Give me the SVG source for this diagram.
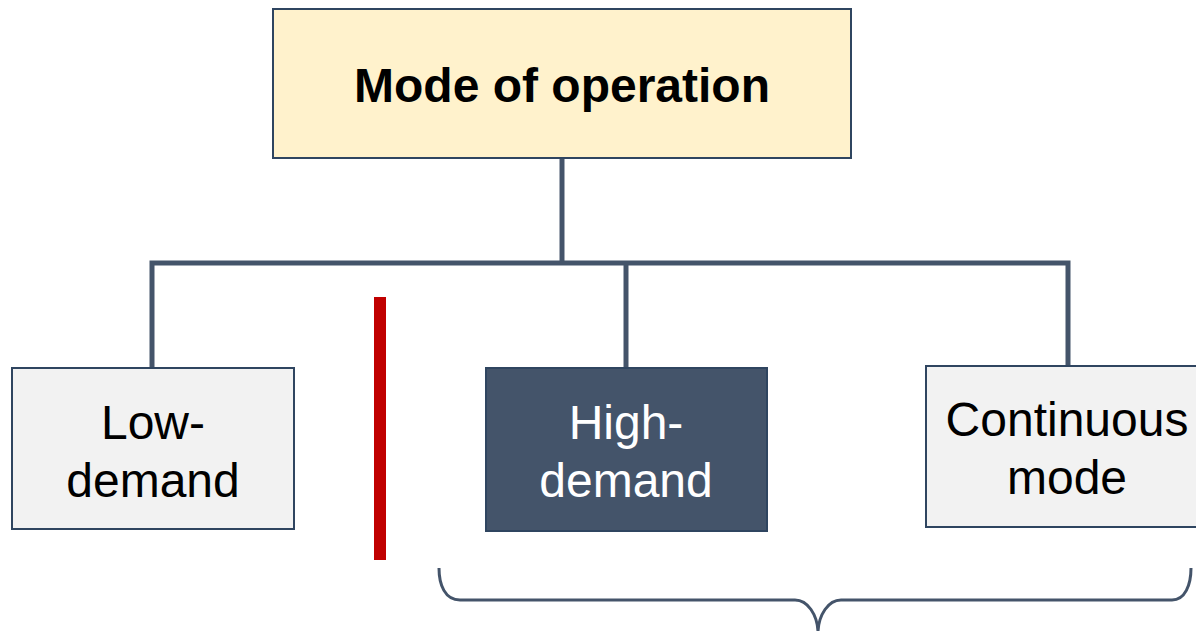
<svg xmlns="http://www.w3.org/2000/svg" width="1196" height="631" viewBox="0 0 1196 631">
  <style>
    .box { stroke: #2F4560; stroke-width: 2; }
    .root { fill: #FFF2CC; }
    .light { fill: #F2F2F2; }
    .dark { fill: #44546A; }
    .label { font-family: "Liberation Sans", Arial, sans-serif; font-size: 48px; text-anchor: middle; fill: #000; }
    .title { font-weight: bold; font-size: 48px; }
    .inv { fill: #FFFFFF; }
    .wire { fill: none; stroke: #44546A; stroke-width: 5; }
  </style>
  <rect width="1196" height="631" fill="#FFFFFF"/>

  <!-- tree connectors -->
  <g id="connectors">
    <path class="wire" d="M562 158 V263"/>
    <path class="wire" d="M152 368 V263 H1068 V366"/>
    <path class="wire" d="M626 263 V368"/>
  </g>

  <!-- top node -->
  <g id="node-mode">
    <rect class="box root" x="273" y="9" width="578" height="149"/>
    <text class="label title" x="562" y="102">Mode of operation</text>
  </g>

  <g id="node-low">
    <rect class="box light" x="12" y="368" width="282" height="161"/>
    <text class="label" x="153" y="439">Low-</text>
    <text class="label" x="153" y="497">demand</text>
  </g>

  <!-- separator -->
  <rect id="divider" x="374" y="297" width="12" height="263" fill="#C00000"/>

  <g id="node-high">
    <rect class="box dark" x="486" y="368" width="281" height="163"/>
    <text class="label inv" x="626" y="439">High-</text>
    <text class="label inv" x="626" y="497">demand</text>
  </g>

  <g id="node-continuous">
    <rect class="box light" x="926" y="366" width="284" height="161"/>
    <text class="label" x="1067" y="436">Continuous</text>
    <text class="label" x="1067" y="494">mode</text>
  </g>

  <!-- grouping brace -->
  <g id="brace">
    <path class="wire" style="stroke-width:3"
      d="M439 568 C439 585 445 600 460 600 H795 C808 600 817 615 818 631 M818 631 C819 615 828 600 841 600 H1172 C1185 600 1191 585 1191 568"/>
  </g>
</svg>
